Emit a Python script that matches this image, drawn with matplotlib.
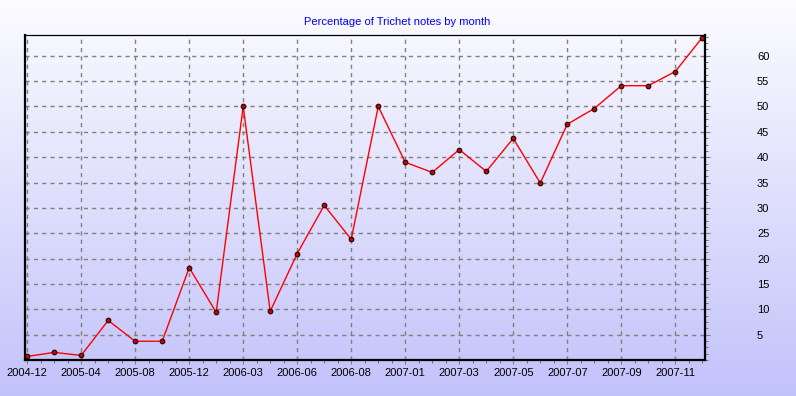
import numpy as np
import matplotlib
matplotlib.use('Agg')
import matplotlib.pyplot as plt
from matplotlib.ticker import MultipleLocator, FixedLocator

# months shown on the chart (one point per month with notes)
months = ['2004-12', '2005-02', '2005-04', '2005-06', '2005-08', '2005-10',
          '2005-12', '2006-01', '2006-03', '2006-05', '2006-06', '2006-07',
          '2006-08', '2006-10', '2007-01', '2007-02', '2007-03', '2007-04',
          '2007-05', '2007-06', '2007-07', '2007-08', '2007-09', '2007-10',
          '2007-11', '2007-12']
# percentage of Trichet notes
pct = [0.7, 1.5, 0.9, 7.8, 3.7, 3.7, 18.2, 9.4, 50.0, 9.6, 21.0, 30.5, 23.8,
       50.0, 39.0, 37.0, 41.5, 37.2, 43.7, 34.9, 46.5, 49.6, 54.1, 54.1,
       56.9, 63.6]
y_ticks = [5, 10, 15, 20, 25, 30, 35, 40, 45, 50, 55, 60]

plt.rcParams['font.family'] = ['Liberation Sans', 'DejaVu Sans']

W, H = 796, 396
fig = plt.figure(figsize=(W / 100, H / 100), dpi=100)
px = 72 / 100  # one pixel in points

# background gradient, white-ish on top to lavender at the bottom
bg = fig.add_axes([0, 0, 1, 1], zorder=-10)
top = np.array([252, 252, 255]) / 255.0
bot = np.array([194, 194, 251]) / 255.0
t = np.linspace(0, 1, 256)[:, None]
grad = (top[None, :] * (1 - t) + bot[None, :] * t)[:, None, :]
bg.imshow(grad, aspect='auto', extent=[0, 1, 0, 1])
bg.axis('off')

ax = fig.add_axes([25 / W, (H - 360) / H, 680 / W, 325 / H])
ax.set_facecolor('none')

x = np.arange(len(months))
ax.plot(x, pct, color='#ff0000', lw=1, zorder=3)
ax.plot(x, pct, ls='none', marker='o', ms=3.4, mfc='#cc0000', mec='black',
        mew=0.7, zorder=4, clip_on=False)

ax.set_xlim(-0.08, len(months) - 0.9)
ax.set_ylim(0, 64.1)

major_x = list(range(0, len(months), 2))
ax.xaxis.set_major_locator(FixedLocator(major_x))
ax.set_xticklabels([months[i] for i in major_x])
ax.xaxis.set_minor_locator(MultipleLocator(0.5))

ax.yaxis.set_major_locator(FixedLocator(y_ticks))
ax.yaxis.set_minor_locator(MultipleLocator(1.25))
ax.yaxis.tick_right()

ax.grid(True, which='major', color='#808080', ls=(0, (3, 3)), lw=1)
ax.tick_params(axis='x', which='both', top=False, bottom=True)
ax.tick_params(axis='x', which='major', length=4 * px, color='#808080',
               labelsize=8, pad=4 * px)
ax.tick_params(axis='x', which='minor', length=3 * px, color='#606060')
ax.tick_params(axis='y', which='both', left=False, right=True,
               labelleft=False, labelright=True)
ax.tick_params(axis='y', which='major', length=5 * px, color='#808080',
               labelsize=8, pad=47 * px)
ax.tick_params(axis='y', which='minor', length=3 * px, color='#606060')

for s in ['left', 'bottom', 'right']:
    ax.spines[s].set_linewidth(1.6)
ax.spines['top'].set_linewidth(0.9)

fig.text(397 / W, 1 - 22 / H, 'Percentage of Trichet notes by month',
         color='#0000ff', fontsize=8, ha='center', va='center')

fig.savefig('out.png', dpi=100)
